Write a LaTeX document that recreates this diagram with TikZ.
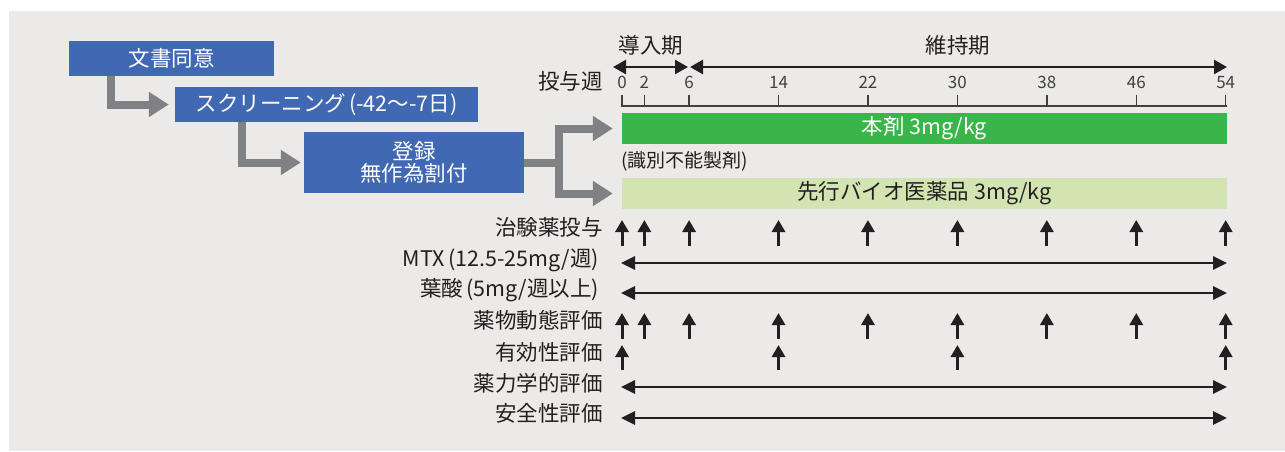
\documentclass[tikz,border=0pt]{standalone}
\usepackage{fontspec}
\setmainfont{Noto Sans CJK JP}
\usetikzlibrary{arrows.meta,calc}
\definecolor{panel}{HTML}{EBEAE8}
\definecolor{boxblue}{HTML}{4169B3}
\definecolor{arrgray}{HTML}{808184}
\definecolor{barg}{HTML}{3AB54A}
\definecolor{barlg}{HTML}{D2E4B1}
\definecolor{ink}{HTML}{231F20}
\definecolor{axisc}{HTML}{404040}
\begin{document}
\begin{tikzpicture}[x=1pt,y=-1pt,
  font=\fontsize{21.5}{25}\selectfont,
  bluebox/.style={fill=boxblue,text=white,inner sep=0pt,align=center},
  grayline/.style={draw=arrgray,line width=8pt},
  grayflow/.style={grayline,-{Triangle[length=20pt,width=24pt]}},
  bar/.style={inner sep=0pt,minimum width=605pt,minimum height=31pt},
  rowlabel/.style={anchor=east,inner sep=0pt,text=ink,text height=0.88em,text depth=0.12em},
  ticklabel/.style={inner sep=0pt,text=axisc,font=\fontsize{17}{19}\selectfont,text height=0.75em,text depth=0pt},
  period/.style={draw=ink,line width=2.5pt,{Triangle[length=13pt,width=14pt]}-{Triangle[length=13pt,width=14pt]}},
  span/.style={draw=ink,line width=2.8pt,{Triangle[length=14pt,width=13pt]}-{Triangle[length=14pt,width=13pt]}},
  uparrow/.style={draw=ink,line width=3pt,-{Triangle[length=12pt,width=13pt]}},
]
\useasboundingbox (0,0) rectangle (1285,451);
\fill[panel] (9,11) rectangle (1285,451);

% flow boxes
\node[bluebox,minimum width=205pt,minimum height=35pt] (a) at (171.5,58.5) {文書同意};
\node[bluebox,minimum width=303pt,minimum height=35pt] (b) at (326.5,104.5) {スクリーニング\hspace{3pt}(-42〜-7日)};
\node[bluebox,minimum width=220pt,minimum height=61pt] (c) at (414,162.5) {登録\\[-3pt]無作為割付};

% bars
\node[bar,fill=barg,text=white] (g) at (924.5,128.5) {本剤 3mg/kg};
\node[bar,fill=barlg,text=ink] (lg) at (924.5,193.5) {先行バイオ医薬品 3mg/kg};
\node[anchor=west,inner sep=0pt,text=ink,font=\fontsize{19}{21}\selectfont] (blind) at (621,161) {(識別不能製剤)};

% gray flow arrows
\draw[grayflow] ($(a.south west)+(42,0)$) |- ([xshift=-6pt]b.west);
\draw[grayflow] ($(b.south west)+(67,0)$) |- ([xshift=-3pt]c.west);
\coordinate (sp) at (559,162.5);
\draw[grayline] (c.east) -- ([xshift=4pt]sp);
\draw[grayflow] (sp) |- ([xshift=-9pt]g.west);
\draw[grayflow] (sp) |- ([xshift=-9pt]lg.west);

% periods
\node[inner sep=0pt,text=ink] (ind) at (651,45) {導入期};
\node[inner sep=0pt,text=ink] (main) at (958,45) {維持期};
\coordinate (p0) at (613,67);
\coordinate (p1) at (688,67);
\coordinate (p2) at (690,67);
\coordinate (p3) at (1227,67);
\draw[period] (p0) -- (p1);
\draw[period] (p2) -- (p3);

% axis
\node[rowlabel] (wk) at (603,86) {投与週};
\draw[draw=axisc,line width=1.4pt] (622,106) -- (1226.5,106);
\foreach \w in {0,2,6,14,22,30,38,46,54} {
  \pgfmathsetmacro\xx{622+\w*11.18}
  \draw[draw=axisc,line width=1.4pt] (\xx,106.7) -- (\xx,95);
  \node[ticklabel] at (\xx,85) {\w};
}

% row labels
\node[rowlabel] (r1) at (603,232) {治験薬投与};
\node[rowlabel] (r2) at (599,263) {MTX\hspace{3pt}(12.5-25mg/週)};
\node[rowlabel] (r3) at (599,293) {葉酸\hspace{3pt}(5mg/週以上)};
\node[rowlabel] (r4) at (603,325) {薬物動態評価};
\node[rowlabel] (r5) at (603,357) {有効性評価};
\node[rowlabel] (r6) at (603,388) {薬力学的評価};
\node[rowlabel] (r7) at (603,418) {安全性評価};

% spans
\foreach \yy in {263,293,387,418} {
  \draw[span] (621,\yy) -- (1227,\yy);
}

% up arrows
\foreach \w in {0,2,6,14,22,30,38,46,54} {
  \pgfmathsetmacro\xx{622+\w*11.18}
  \draw[uparrow] (\xx,245.5) -- (\xx,220);
  \draw[uparrow] (\xx,338.5) -- (\xx,313);
}
\foreach \w in {0,14,30,54} {
  \pgfmathsetmacro\xx{622+\w*11.18}
  \draw[uparrow] (\xx,370) -- (\xx,345);
}
\end{tikzpicture}
\end{document}
